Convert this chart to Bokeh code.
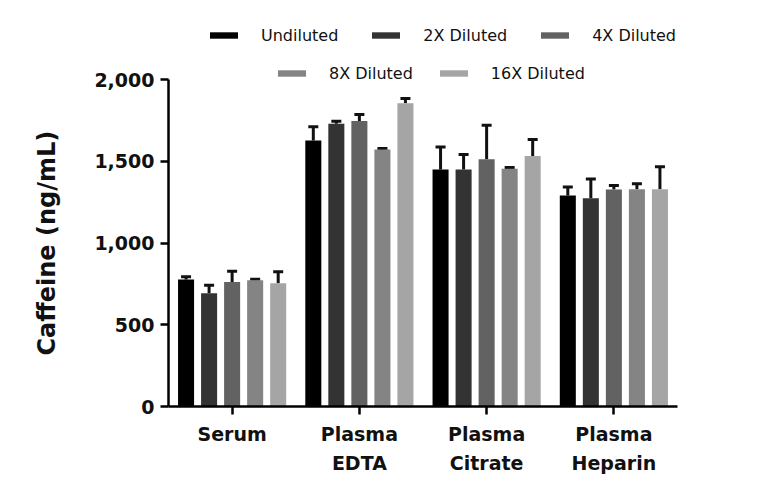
from bokeh.plotting import figure
from bokeh.models import (ColumnDataSource, FactorRange, Legend, LegendItem,
                          Whisker, TeeHead, FixedTicker, NumeralTickFormatter,
                          CategoricalAxis, Title, CustomJSTickFormatter)
from bokeh.transform import dodge
from bokeh.embed import file_html
from bokeh.resources import INLINE

# Sample types and dilution series
categories = ["Serum", "Plasma EDTA", "Plasma Citrate", "Plasma Heparin"]
series = ["Undiluted", "2X Diluted", "4X Diluted", "8X Diluted", "16X Diluted"]

# Mean caffeine (ng/mL) per sample type, one list per dilution
undiluted = [777, 1627, 1450, 1291]
diluted_2x = [693, 1729, 1450, 1274]
diluted_4x = [762, 1747, 1513, 1327]
diluted_8x = [773, 1572, 1454, 1329]
diluted_16x = [754, 1855, 1533, 1329]

# Standard deviations (upper error bars only)
sd_undiluted = [16, 84, 138, 51]
sd_2x = [49, 16, 91, 117]
sd_4x = [66, 39, 208, 25]
sd_8x = [6, 6, 8, 33]
sd_16x = [70, 29, 100, 137]

y_ticks = [0, 500, 1000, 1500, 2000]

# Category labels split over two lines
label_line1 = {"Serum": "Serum", "Plasma EDTA": "Plasma",
               "Plasma Citrate": "Plasma", "Plasma Heparin": "Plasma"}
label_line2 = {"Serum": "", "Plasma EDTA": "EDTA",
               "Plasma Citrate": "Citrate", "Plasma Heparin": "Heparin"}

means = [undiluted, diluted_2x, diluted_4x, diluted_8x, diluted_16x]
sds = [sd_undiluted, sd_2x, sd_4x, sd_8x, sd_16x]
colors = ["#000000", "#333333", "#626262", "#848484", "#a5a5a5"]

# The plot area reaches up to hold the legend; the y axis itself stops at 2,000
p = figure(
    x_range=FactorRange(*categories),
    y_range=(0, 2453),
    width=768, height=501,
    output_backend="svg", toolbar_location=None,
    min_border_left=167, min_border_right=91,
    min_border_top=5, min_border_bottom=95,
)

pitch = 0.181
bar_w = 0.126
renderers = []
for i, (name, vals, err, col) in enumerate(zip(series, means, sds, colors)):
    src = ColumnDataSource(dict(
        cat=categories, val=vals,
        top=[v + e for v, e in zip(vals, err)],
    ))
    off = (i - 2) * pitch
    r = p.vbar(x=dodge("cat", off, range=p.x_range), top="val", width=bar_w,
               source=src, fill_color=col, line_color=None)
    renderers.append(r)
    w = Whisker(base=dodge("cat", off, range=p.x_range), lower="val", upper="top",
                source=src, dimension="height", line_color="#111111", line_width=3,
                lower_head=None,
                upper_head=TeeHead(size=10, line_width=3, line_color="#111111"))
    p.add_layout(w)

# Two-row legend above the bars
leg_common = dict(
    orientation="horizontal", border_line_color=None, background_fill_alpha=0,
    padding=0, margin=0, glyph_width=35, glyph_height=8, label_standoff=20,
    label_text_font="DejaVu Sans", label_text_font_size="16px",
    label_text_color="#111111", label_height=20,
)
leg_row1 = Legend(items=[LegendItem(label=series[i], renderers=[renderers[i]]) for i in range(3)],
                  location=(38, 361), spacing=30, **leg_common)
leg_row2 = Legend(items=[LegendItem(label=series[i], renderers=[renderers[i]]) for i in range(3, 5)],
                  location=(106, 323), spacing=23, **leg_common)
p.add_layout(leg_row1)
p.add_layout(leg_row2)

p.xgrid.grid_line_color = None
p.ygrid.grid_line_color = None
p.outline_line_color = None

ya = p.yaxis[0]
ya.bounds = (0, 2000)
ya.ticker = FixedTicker(ticks=y_ticks)
ya.formatter = NumeralTickFormatter(format="0,0")
ya.major_label_text_font = "DejaVu Sans"
ya.major_label_text_font_style = "bold"
ya.major_label_text_font_size = "19px"
ya.major_label_text_color = "#111111"
ya.major_label_standoff = 6
ya.axis_line_width = 2.5
ya.major_tick_line_width = 2.5
ya.major_tick_out = 8
ya.major_tick_in = 0
ya.minor_tick_line_color = None

# Y axis title, centred on the 0-2,000 span of the axis
y_title = Title(text="Caffeine (ng/mL)", align="left", offset=51,
                text_font="DejaVu Sans", text_font_style="bold",
                text_font_size="24px", text_color="#111111", standoff=61)
p.add_layout(y_title, "left")

label_style = dict(
    major_label_text_font="DejaVu Sans",
    major_label_text_font_style="bold",
    major_label_text_font_size="19px",
    major_label_text_color="#111111",
)

lookup_code = "const s = labels[tick]; return s === undefined ? tick : s;"

xa = p.xaxis[0]
xa.formatter = CustomJSTickFormatter(args=dict(labels=label_line1), code=lookup_code)
xa.major_label_standoff = 8
xa.axis_line_width = 2.5
xa.major_tick_line_width = 2.5
xa.major_tick_out = 8
xa.major_tick_in = 0
for k, v in label_style.items():
    setattr(xa, k, v)

# Second line of the category labels
xa2 = CategoricalAxis(
    formatter=CustomJSTickFormatter(args=dict(labels=label_line2), code=lookup_code),
    axis_line_color=None, major_tick_line_color=None,
    major_tick_out=0, major_tick_in=0, major_label_standoff=4, **label_style)
p.add_layout(xa2, "below")

open("out.html", "w").write(file_html(p, INLINE))
